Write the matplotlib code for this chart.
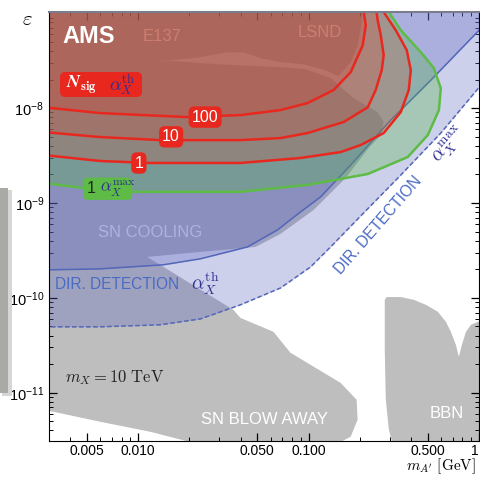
import matplotlib
matplotlib.use("Agg")
import matplotlib.pyplot as plt
from matplotlib.patches import FancyBboxPatch, Rectangle
from matplotlib.ticker import FixedLocator, FixedFormatter, LogLocator, NullFormatter

plt.rcParams['font.family'] = ['Liberation Sans', 'DejaVu Sans']
plt.rcParams['mathtext.fontset'] = 'custom'
plt.rcParams['mathtext.rm'] = 'Liberation Sans'
plt.rcParams['mathtext.it'] = 'Liberation Sans:italic'
plt.rcParams['mathtext.bf'] = 'Liberation Sans:bold'

# ---- data (m_A' in GeV, epsilon) ----
# grey bounds: E137 / LSND (top), SN cooling, SN blow-away, BBN
top_m = [0.0028, 0.211, 0.208, 0.2023, 0.194, 0.1767, 0.150, 0.1259, 0.0935, 0.0684,
         0.0523, 0.0415, 0.0334, 0.0232, 0.0161, 0.0028]
top_eps = [1.2e-7, 1.2e-7, 1.03e-7, 6.95e-8, 4.6e-8, 3.05e-8, 2.17e-8, 2.51e-8, 2.9e-8, 3.05e-8,
           3.36e-8, 3.88e-8, 3.88e-8, 3.44e-8, 3.2e-8, 2.39e-8]

cool_m = [0.0028, 0.0161, 0.0292, 0.0684, 0.096, 0.1346, 0.184, 0.2545, 0.276, 0.2653,
          0.2254, 0.165, 0.107, 0.0684, 0.0488, 0.0232, 0.0113, 0.00598, 0.0028]
cool_eps = [2.84e-8, 3.13e-8, 2.9e-8, 2.7e-8, 2.57e-8, 2.07e-8, 1.27e-8, 9.08e-9, 7.13e-9, 5.2e-9,
            3.79e-9, 1.83e-9, 8.43e-10, 4.72e-10, 3.44e-10, 3.05e-10, 2.7e-10, 2.39e-10, 2.07e-10]

blow_m = [0.0028, 0.0113, 0.0362, 0.0398, 0.0622, 0.0783, 0.1543, 0.1915, 0.194, 0.1767,
          0.144, 0.0232, 0.01177, 0.00598, 0.0028]
blow_eps = [3.2e-10, 2.7e-10, 7.48e-11, 6.15e-11, 4.39e-11, 2.64e-11, 1.27e-11, 8.43e-12, 5.2e-12, 3.44e-12,
            2.84e-12, 2.84e-12, 3.88e-12, 4.95e-12, 6.62e-12]

bbn_m = [0.28, 0.28, 0.2876, 0.3477, 0.415, 0.488, 0.574, 0.64, 0.684, 0.732, 0.762, 0.794,
         0.839, 0.897, 0.986, 1.1, 1.1, 0.312, 0.296, 0.284]
bbn_eps = [2.84e-11, 9.53e-11, 1.02e-10, 1.02e-10, 9.53e-11, 8.44e-11, 7.13e-11, 5.59e-11, 4.39e-11,
           3.2e-11, 2.39e-11, 3.2e-11, 4.39e-11, 5.2e-11, 5.59e-11, 5.59e-11, 2.84e-12, 2.84e-12,
           4.08e-12, 8.43e-12]

# direct detection bounds
dd_th_m = [0.0028, 0.00598, 0.01403, 0.0232, 0.0438, 0.0657, 0.0897, 0.1177, 0.1767, 0.3036, 0.522, 1.028]
dd_th_eps = [1.97e-10, 2.02e-10, 2.23e-10, 2.58e-10, 3.44e-10, 5.2e-10, 8.04e-10, 1.16e-9, 2.51e-9,
             7.48e-9, 1.97e-8, 6.95e-8]
dd_max_m = [0.0028, 0.00598, 0.01346, 0.0232, 0.0398, 0.0684, 0.1028, 0.1346, 0.2023, 0.3477, 0.597, 1.028]
dd_max_eps = [4.95e-11, 4.95e-11, 5.2e-11, 6.0e-11, 8.44e-11, 1.27e-10, 2.12e-10, 3.44e-10, 7.3e-10,
              1.97e-9, 5.46e-9, 1.75e-8]

# AMS signal contours
n100_m = [0.0028, 0.00598, 0.0194, 0.0398, 0.0684, 0.0987, 0.1403, 0.1767, 0.208, 0.2166, 0.211, 0.208]
n100_eps = [1.02e-8, 8.86e-9, 8.04e-9, 8.44e-9, 9.53e-9, 1.13e-8, 1.55e-8, 2.39e-8, 4.6e-8, 7.48e-8,
            1.03e-7, 1.2e-7]
n10_m = [0.0028, 0.00598, 0.01346, 0.0398, 0.0684, 0.0987, 0.1606, 0.2225, 0.2477, 0.2687, 0.276,
         0.2653, 0.2545, 0.2477]
n10_eps = [5.59e-9, 4.95e-9, 4.6e-9, 4.6e-9, 4.83e-9, 5.46e-9, 7.13e-9, 1.02e-8, 1.55e-8, 2.51e-8,
           3.61e-8, 5.87e-8, 8.43e-8, 1.2e-7]
n1_m = [0.0028, 0.00598, 0.01177, 0.0398, 0.0897, 0.1543, 0.2023, 0.276, 0.3477, 0.3873, 0.398,
        0.3768, 0.325, 0.276, 0.2653]
n1_eps = [3.2e-9, 2.77e-9, 2.64e-9, 2.64e-9, 2.98e-9, 3.44e-9, 4.08e-9, 5.46e-9, 9.08e-9, 1.55e-8,
          2.51e-8, 4.08e-8, 6.62e-8, 1.03e-7, 1.2e-7]
nmax_m = [0.0028, 0.00474, 0.00935, 0.0398, 0.0987, 0.2225, 0.382, 0.501, 0.582, 0.597, 0.543,
          0.456, 0.3477, 0.296, 0.284]
nmax_eps = [1.62e-9, 1.44e-9, 1.31e-9, 1.31e-9, 1.55e-9, 2.02e-9, 3.05e-9, 5.2e-9, 9.53e-9, 1.62e-8,
            2.64e-8, 3.88e-8, 6.62e-8, 1.03e-7, 1.2e-7]

xticks = [0.005, 0.01, 0.05, 0.1, 0.5, 1.0]
xticklabels = ['0.005', '0.010', '0.050', '0.100', '0.500', '1']
yticks = [1e-11, 1e-10, 1e-9, 1e-8]

gray = '#bebebe'
blue = '#5a64c0'
red = '#e8281e'
green = '#5dbb46'
navy = '#2e3092'

fig = plt.figure(figsize=(4.81, 4.78), dpi=100)

# bit of the neighbouring panel seen in the screenshot
fig.patches.append(Rectangle((0.004, 0.172), 0.02, 0.43, transform=fig.transFigure,
                             fc='#d6d6d4', ec='none', zorder=0))
fig.patches.append(Rectangle((0, 0.178), 0.0166, 0.429, transform=fig.transFigure,
                             fc='#a9aaa5', ec='none', zorder=1))

ax = fig.add_axes([0.1019, 0.0774, 0.8939, 0.8975])
ax.set_xscale('log')
ax.set_yscale('log')

for mm, ee in [(top_m, top_eps), (cool_m, cool_eps), (blow_m, blow_eps), (bbn_m, bbn_eps)]:
    ax.fill(mm, ee, color=gray, lw=0, zorder=1)

# direct detection regions (above the curves)
ax.fill_between(dd_th_m, dd_th_eps, 1e-6, color=blue, alpha=0.3, lw=0, zorder=2)
ax.fill_between(dd_max_m, dd_max_eps, 1e-6, color=blue, alpha=0.3, lw=0, zorder=2)
ax.plot(dd_th_m, dd_th_eps, color='#5466b8', lw=1.1, zorder=3)
ax.plot(dd_max_m, dd_max_eps, color='#5466b8', lw=1.1, ls=(0, (3, 1.6)), zorder=3)

# signal regions, closed through the top-left corner
ax.fill(nmax_m + [0.0028], nmax_eps + [1.2e-7], color='#50b43c', alpha=0.3, lw=0, zorder=4)
for mm, ee in [(n1_m, n1_eps), (n10_m, n10_eps), (n100_m, n100_eps)]:
    ax.fill(mm + [0.0028], ee + [1.2e-7], color='#e8321f', alpha=0.2, lw=0, zorder=5)
ax.plot(nmax_m, nmax_eps, color=green, lw=1.8, zorder=6)
for mm, ee in [(n1_m, n1_eps), (n10_m, n10_eps), (n100_m, n100_eps)]:
    ax.plot(mm, ee, color=red, lw=1.8, zorder=6)

ax.set_xlim(0.003, 1.0)
ax.set_ylim(3.1e-12, 1.03e-7)

ax.xaxis.set_major_locator(FixedLocator(xticks))
ax.xaxis.set_major_formatter(FixedFormatter(xticklabels))
ax.xaxis.set_minor_locator(LogLocator(base=10, subs=range(2, 10)))
ax.xaxis.set_minor_formatter(NullFormatter())
ax.yaxis.set_major_locator(FixedLocator(yticks))
ax.yaxis.set_minor_locator(LogLocator(base=10, subs=range(2, 10)))
ax.yaxis.set_minor_formatter(NullFormatter())
ax.tick_params(which='both', direction='in', top=True, right=True, labelsize=10.5, zorder=10)
ax.tick_params(which='major', length=6, width=0.9)
ax.tick_params(which='minor', length=3, width=0.7)
ax.tick_params(axis='x', pad=2, labelsize=10)
ax.get_xticklabels()[-1].set_horizontalalignment('right')
for s in ax.spines.values():
    s.set_zorder(10)
ax.spines['top'].set_color('#7a7d8c')
ax.spines['top'].set_linewidth(1.5)

# labels
T = ax.transAxes
ax.text(0.030, 0.942, 'AMS', transform=T, color='white', fontsize=17, fontweight='bold',
        va='center', zorder=9)
ax.text(0.263, 0.942, 'E137', transform=T, color='#cc7f70', fontsize=12, ha='center', va='center', zorder=9)
ax.text(0.630, 0.953, 'LSND', transform=T, color='#cc7f70', fontsize=12, ha='center', va='center', zorder=9)

ax.add_patch(FancyBboxPatch((0.0256, 0.8019), 0.1907, 0.0582, transform=T,
                            boxstyle='round,pad=0,rounding_size=0.012', fc=red, ec='none', zorder=8))
ax.text(0.040, 0.831, r'$\mathbfit{N}_{\mathbf{sig}}$', transform=T, color='white', fontsize=13,
        va='center', math_fontfamily='cm', zorder=9)
ax.text(0.140, 0.831, r'$\alpha_X^{\mathrm{th}}$', transform=T, color=navy, fontsize=13,
        va='center', math_fontfamily='cm', zorder=9)

for lab, x, y in [('100', 0.363, 0.755), ('10', 0.284, 0.709), ('1', 0.209, 0.648)]:
    ax.text(x, y, lab, transform=T, color='white', fontsize=11.5, ha='center', va='center', zorder=9,
            bbox=dict(boxstyle='round,pad=0.2,rounding_size=0.35', fc=red, ec='none'))

ax.add_patch(FancyBboxPatch((0.079, 0.562), 0.1145, 0.052, transform=T,
                            boxstyle='round,pad=0,rounding_size=0.012', fc=green, ec='none', zorder=8))
ax.text(0.087, 0.588, '1', transform=T, color='#1a2a1a', fontsize=11.5, va='center', zorder=9)
ax.text(0.118, 0.588, r'$\alpha_X^{\mathrm{max}}$', transform=T, color=navy, fontsize=12,
        va='center', math_fontfamily='cm', zorder=9)

ax.text(0.235, 0.485, 'SN COOLING', transform=T, color='#aeb2e0', fontsize=12, ha='center',
        va='center', zorder=9)
ax.text(0.014, 0.364, 'DIR. DETECTION', transform=T, color='#4a6bc4', fontsize=11.2, va='center', zorder=9)
ax.text(0.330, 0.366, r'$\alpha_X^{\mathrm{th}}$', transform=T, color=navy, fontsize=14,
        va='center', math_fontfamily='cm', zorder=9)
ax.text(0.765, 0.503, 'DIR. DETECTION', transform=T, color='#4a6bc4', fontsize=11.2, ha='center',
        va='center', rotation=49, rotation_mode='anchor', zorder=9)
ax.text(0.930, 0.690, r'$\alpha_X^{\mathrm{max}}$', transform=T, color=navy, fontsize=14, ha='center',
        va='center', rotation=49, rotation_mode='anchor', math_fontfamily='cm', zorder=9)
ax.text(0.037, 0.147, r'$m_X = 10\ \mathrm{TeV}$', transform=T, color='#222222', fontsize=12,
        va='center', math_fontfamily='cm', zorder=9)
ax.text(0.502, 0.049, 'SN BLOW AWAY', transform=T, color='white', fontsize=12, ha='center',
        va='center', zorder=9)
ax.text(0.926, 0.063, 'BBN', transform=T, color='white', fontsize=12, ha='center', va='center', zorder=9)

fig.text(0.058, 0.960, r'$\varepsilon$', fontsize=15, ha='center', va='center', math_fontfamily='cm')
fig.text(0.990, 0.004, r"$m_{A'}\ [\mathrm{GeV}]$", fontsize=11, ha='right', va='bottom',
         math_fontfamily='cm')

fig.savefig('out.png', dpi=100)
